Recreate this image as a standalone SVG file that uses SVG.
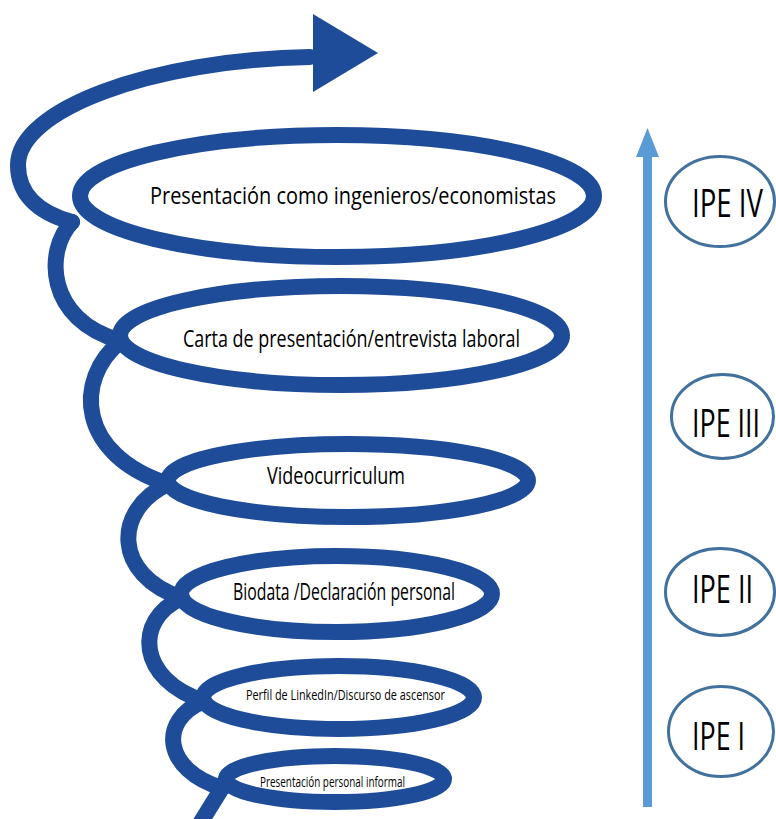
<svg xmlns="http://www.w3.org/2000/svg" width="776" height="819" viewBox="0 0 776 819">
<style>
.sp{fill:none;stroke:#1F4C99;stroke-width:16;stroke-linecap:round;stroke-linejoin:round}
.lbl{font-family:"Open Sans","Liberation Sans",sans-serif;fill:#000}
.ipe{fill:none;stroke:#41719C;stroke-width:3}
.ipet{font-family:"Open Sans","Liberation Sans",sans-serif;font-size:27px;fill:#000}
</style>
<rect width="776" height="819" fill="#fff"/>
<g id="connectors">
<path class="sp" d="M196,830 L222,788"/>
<path class="sp" d="M222,788 C163,770 158,720 204,701"/>
<path class="sp" d="M204,701 C138,680 133,620 182,598"/>
<path class="sp" d="M182,598 C113,575 113,510 168,484"/>
<path class="sp" d="M168,484 C78,455 73,380 121,341"/>
<path class="sp" d="M121,341 C45,320 45,250 72,222"/>
<path class="sp" d="M72,222 C35,212 18,192 18,165 C18,110 150,60 310,57"/>
<polygon points="313,14 378,53 313,92" fill="#1F4C99"/>
<line x1="647.5" y1="807" x2="647.5" y2="150" stroke="#5B9BD5" stroke-width="9"/>
<polygon points="636,157 647.5,128 659,157" fill="#5B9BD5"/>
</g>
<g id="n1">
<ellipse class="sp" cx="337" cy="196" rx="257" ry="61"/>
<text class="lbl" x="150" y="204" font-size="23" textLength="406" lengthAdjust="spacingAndGlyphs">Presentación como ingenieros/economistas</text>
</g>
<g id="n2">
<ellipse class="sp" cx="341" cy="335.5" rx="221" ry="49.5"/>
<text class="lbl" x="183" y="347" font-size="23" textLength="337" lengthAdjust="spacingAndGlyphs">Carta de presentación/entrevista laboral</text>
</g>
<g id="n3">
<ellipse class="sp" cx="348" cy="480.5" rx="180" ry="36.5"/>
<text class="lbl" x="267" y="484" font-size="23" textLength="138" lengthAdjust="spacingAndGlyphs">Videocurriculum</text>
</g>
<g id="n4">
<ellipse class="sp" cx="336.5" cy="594" rx="155.5" ry="38"/>
<text class="lbl" x="233" y="600" font-size="23" textLength="222" lengthAdjust="spacingAndGlyphs">Biodata /Declaración personal</text>
</g>
<g id="n5">
<ellipse class="sp" cx="338.5" cy="697.5" rx="135.5" ry="31.5"/>
<text class="lbl" x="246" y="700" font-size="14" textLength="199" lengthAdjust="spacingAndGlyphs">Perfil de LinkedIn/Discurso de ascensor</text>
</g>
<g id="n6">
<ellipse class="sp" cx="335" cy="779" rx="109" ry="23"/>
<text class="lbl" x="260" y="787" font-size="14" textLength="145" lengthAdjust="spacingAndGlyphs">Presentación personal informal</text>
</g>
<g id="ipe4">
<ellipse class="ipe" cx="720" cy="201.5" rx="54.5" ry="45"/>
<text class="ipet" transform="translate(692,217) scale(1,1.4)" textLength="71" lengthAdjust="spacingAndGlyphs">IPE IV</text>
</g>
<g id="ipe3">
<ellipse class="ipe" cx="722.5" cy="416.5" rx="51" ry="42"/>
<text class="ipet" transform="translate(692,437) scale(1,1.4)" textLength="68" lengthAdjust="spacingAndGlyphs">IPE III</text>
</g>
<g id="ipe2">
<ellipse class="ipe" cx="720" cy="592" rx="54.5" ry="43.5"/>
<text class="ipet" transform="translate(692,603) scale(1,1.4)" textLength="61" lengthAdjust="spacingAndGlyphs">IPE II</text>
</g>
<g id="ipe1">
<ellipse class="ipe" cx="721" cy="731.5" rx="52.5" ry="45"/>
<text class="ipet" transform="translate(692,750) scale(1,1.4)" textLength="53" lengthAdjust="spacingAndGlyphs">IPE I</text>
</g>
</svg>
